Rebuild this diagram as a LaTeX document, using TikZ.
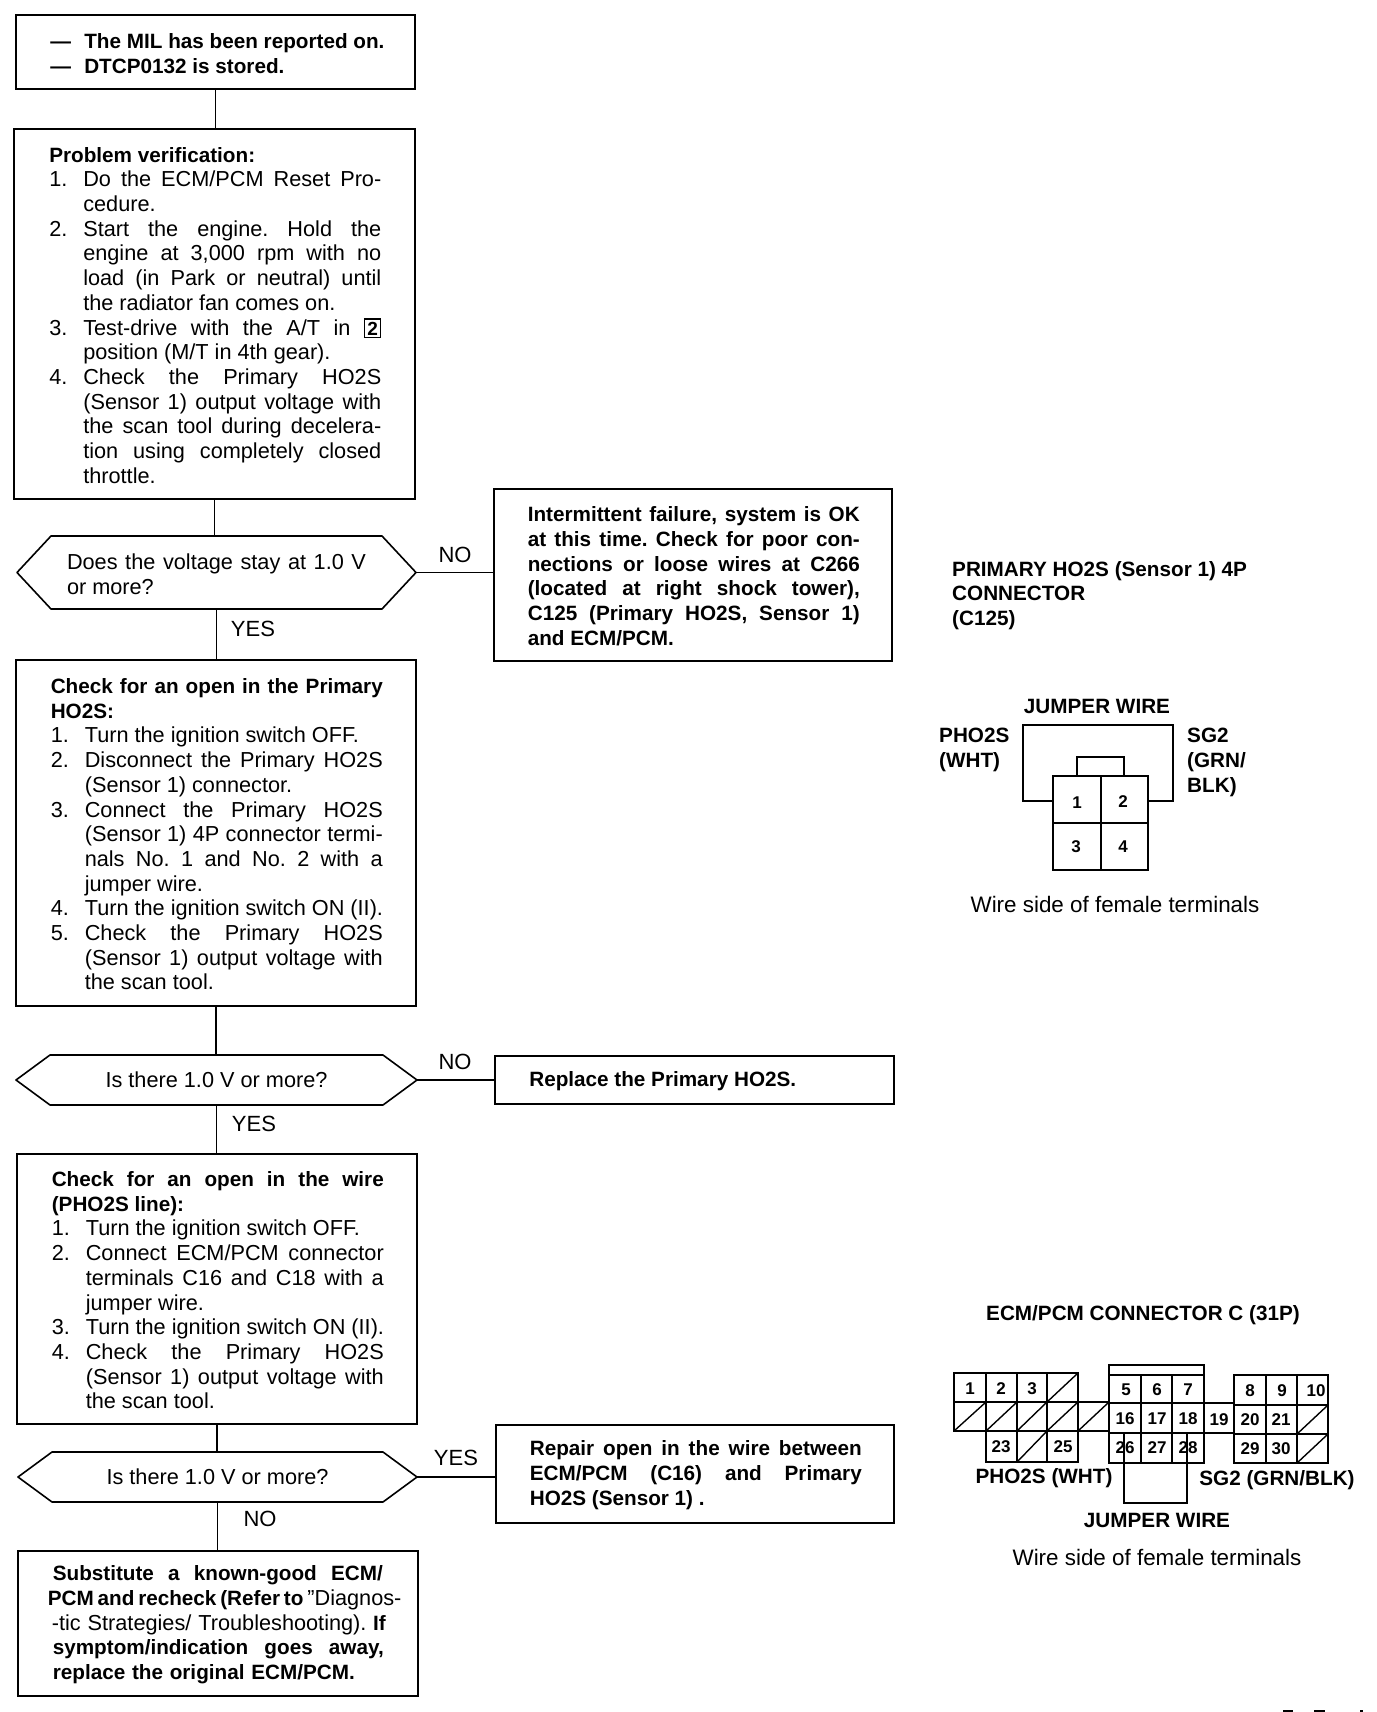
\documentclass[tikz,border=0pt]{standalone}
\usepackage{fontspec}
\setmainfont{Liberation Sans}
\AtBeginDocument{\frenchspacing}
\newcommand{\bodyb}{\fontsize{20.7}{24.7}\selectfont\bfseries}
\newcommand{\bodyr}{\fontsize{21.7}{24.7}\selectfont\mdseries}
\newcommand{\tb}[2][332pt]{\hspace*{2pt}\parbox[c]{#1}{\vspace*{3pt}#2}}
\newcommand{\jl}[1]{\makebox[332pt][s]{#1}}
\newcommand{\pl}[1]{\makebox[332pt][l]{#1}}
\newcommand{\jn}[2]{\makebox[34pt][l]{#1}\makebox[298pt][s]{#2}}
\newcommand{\pn}[2]{\makebox[34pt][l]{#1}\makebox[298pt][l]{#2}}
\newcommand{\boxtwo}{\smash{\fboxsep=2pt\fboxrule=1.4pt\fbox{\fontsize{19}{19}\selectfont\bfseries 2}}}
\newcommand{\hexdraw}[1]{\draw[flowline,line join=round] ([xshift=34pt]#1.north west) -- ([xshift=-34pt]#1.north east) -- (#1.east) -- ([xshift=-34pt]#1.south east) -- ([xshift=34pt]#1.south west) -- (#1.west) -- cycle;}
\tikzset{
  flowline/.style={line width=1.6pt,black},
  flowbox/.style 2 args={draw=black,line width=1.6pt,anchor=north west,inner sep=0pt,xshift=-1pt,yshift=1pt,minimum width=#1pt,minimum height=#2pt,font=\bodyr},
  hexbox/.style 2 args={anchor=north west,inner sep=0pt,outer sep=0pt,minimum width=#1pt,minimum height=#2pt,font=\bodyr},
  lab/.style={inner sep=0pt,font=\fontsize{22}{24.7}\selectfont},
  wlab/.style={inner sep=0pt,font=\fontsize{22.4}{24.7}\selectfont},
  blab/.style={inner sep=0pt,align=left,font=\fontsize{20.7}{24.7}\selectfont\bfseries},
  cellno/.style={inner sep=0pt,font=\fontsize{17}{17}\selectfont\bfseries},
  wire/.style={line width=2.8pt,black,line join=miter},
  thin wire/.style={line width=1.4pt,black},
}
\begin{document}
\begin{tikzpicture}[x=1pt,y=-1pt]
\useasboundingbox (0,0) rectangle (1376,1712);
% flow boxes
\node[flowbox={399}{74}] (b1) at (16,15) {\tb{\bodyb
 \makebox[34pt][l]{---}\makebox[298pt][l]{The MIL has been reported on.}\\
 \makebox[34pt][l]{---}\makebox[298pt][l]{DTCP0132 is stored.}}};
\node[flowbox={401}{370}] (b2) at (14,129) {\tb{\pl{\bodyb Problem verification:}\\
 \jn{1.}{Do the ECM/PCM Reset Pro-}\\
 \pn{}{cedure.}\\
 \jn{2.}{Start the engine. Hold the}\\
 \jn{}{engine at 3,000 rpm with no}\\
 \jn{}{load (in Park or neutral) until}\\
 \pn{}{the radiator fan comes on.}\\
 \jn{3.}{Test-drive with the A/T in \boxtwo}\\
 \pn{}{position (M/T in 4th gear).}\\
 \jn{4.}{Check the Primary HO2S}\\
 \jn{}{(Sensor 1) output voltage with}\\
 \jn{}{the scan tool during decelera-}\\
 \jn{}{tion using completely closed}\\
 \pn{}{throttle.}}};
\node[hexbox={399}{73}] (h1) at (17,536) {\parbox[c]{299pt}{\vspace*{3pt}\makebox[299pt][s]{Does the voltage stay at 1.0 V}\\or more?}};
\node[flowbox={398}{172}] (r1) at (494,489) {\tb{\bodyb
 \jl{Intermittent failure, system is OK}\\
 \jl{at this time. Check for poor con-}\\
 \jl{nections or loose wires at C266}\\
 \jl{(located at right shock tower),}\\
 \jl{C125 (Primary HO2S, Sensor 1)}\\
 \pl{and ECM/PCM.}}};
\node[flowbox={400}{346}] (b3) at (16,660) {\tb{\bodyb\jl{Check for an open in the Primary}\\\pl{HO2S:}\\\bodyr
 \pn{1.}{Turn the ignition switch OFF.}\\
 \jn{2.}{Disconnect the Primary HO2S}\\
 \pn{}{(Sensor 1) connector.}\\
 \jn{3.}{Connect the Primary HO2S}\\
 \jn{}{(Sensor 1) 4P connector termi-}\\
 \jn{}{nals No. 1 and No. 2 with a}\\
 \pn{}{jumper wire.}\\
 \pn{4.}{Turn the ignition switch ON (II).}\\
 \jn{5.}{Check the Primary HO2S}\\
 \jn{}{(Sensor 1) output voltage with}\\
 \pn{}{the scan tool.}}};
\node[hexbox={401}{50}] (h2) at (16,1055) {\raisebox{-2pt}{Is there 1.0 V or more?}};
\node[flowbox={399}{48}] (r2) at (495,1056) {\tb{\bodyb\pl{Replace the Primary HO2S.}}};
\node[flowbox={400}{270}] (b4) at (17,1154) {\tb{\bodyb\jl{Check for an open in the wire}\\\pl{(PHO2S line):}\\\bodyr
 \pn{1.}{Turn the ignition switch OFF.}\\
 \jn{2.}{Connect ECM/PCM connector}\\
 \jn{}{terminals C16 and C18 with a}\\
 \pn{}{jumper wire.}\\
 \pn{3.}{Turn the ignition switch ON (II).}\\
 \jn{4.}{Check the Primary HO2S}\\
 \jn{}{(Sensor 1) output voltage with}\\
 \pn{}{the scan tool.}}};
\node[hexbox={399}{50}] (h3) at (18,1452) {Is there 1.0 V or more?};
\node[flowbox={398}{98}] (r3) at (496,1425) {\tb{\bodyb
 \jl{Repair open in the wire between}\\
 \jl{ECM/PCM (C16) and Primary}\\
 \pl{HO2S (Sensor 1) .}}};
\node[flowbox={400}{145}] (b5) at (18,1551) {\parbox[c]{340pt}{\vspace*{3pt}\bodyb
 \hspace*{5pt}\makebox[330pt][s]{Substitute a known-good ECM/}\\
 \makebox[340pt][s]{PCM and recheck (Refer to {\bodyr\symbol{34}Diagnos-}}\\
 \hspace*{4pt}\makebox[334pt][s]{{\bodyr -tic Strategies/ Troubleshooting).} If}\\
 \hspace*{5pt}\makebox[331pt][s]{symptom/indication goes away,}\\
 \hspace*{5pt}\makebox[302pt][s]{replace the original ECM/PCM.}}};
\hexdraw{h1}\hexdraw{h2}\hexdraw{h3}
% connectors
\draw[flowline] (b1.south) -- (b1.south |- b2.north);
\draw[flowline] (b2.south) -- (b2.south |- h1.north);
\draw[flowline] (h1.south) -- (h1.south |- b3.north);
\draw[flowline] (h1.east) -- (h1.east -| r1.west);
\draw[flowline] (b3.south) -- (b3.south |- h2.north);
\draw[flowline] (h2.east) -- (h2.east -| r2.west);
\draw[flowline] (h2.south) -- (h2.south |- b4.north);
\draw[flowline] (b4.south) -- (b4.south |- h3.north);
\draw[flowline] (h3.east) -- (h3.east -| r3.west);
\draw[flowline] (h3.south) -- (h3.south |- b5.north);
% branch labels
\node[lab] (l1) at (455,555) {NO};
\node[lab] (l2) at (253,629) {YES};
\node[lab] (l3) at (455,1062) {NO};
\node[lab] (l4) at (254,1124) {YES};
\node[lab] (l5) at (456,1458) {YES};
\node[lab] (l6) at (260,1519) {NO};
% C125 connector
\node[blab,anchor=north west] (t1) at (952,561) {PRIMARY HO2S (Sensor 1) 4P\\CONNECTOR\\(C125)};
\draw[wire] (1053,801) -- (1023,801) -- (1023,725) -- (1173,725) -- (1173,801) -- (1148,801);
\draw[wire] (1077,776) -- (1077,757) -- (1124,757) -- (1124,776);
\draw[wire] (1053,776) rectangle (1148,870);
\draw[thin wire] (1101,776) -- (1101,870);
\draw[thin wire] (1053,823) -- (1148,823);
\node[cellno] (c1) at (1077,803) {1};
\node[cellno] (c2) at (1123,802) {2};
\node[cellno] (c3) at (1076,847) {3};
\node[cellno] (c4) at (1123,847) {4};
\node[blab] (t2) at (1097,706) {JUMPER WIRE};
\node[blab,anchor=north west] (t3) at (939,728) {PHO2S\\(WHT)};
\node[blab,anchor=north west] (t4) at (1187,728) {SG2\\(GRN/\\BLK)};
\node[wlab] (t5) at (1115,904) {Wire side of female terminals};
% ECM connector C
\node[blab] (t6) at (1143,1315) {ECM/PCM CONNECTOR C (31P)};
\draw[wire] (954,1373) -- (1078,1373) -- (1078,1462) -- (986,1462) -- (986,1431) -- (954,1431) -- cycle;
\draw[wire] (954,1402) -- (1109,1402);
\draw[wire] (954,1431) -- (1109,1431);
\foreach \xx in {986,1017,1047} \draw[thin wire] (\xx,1373) -- (\xx,1431);
\foreach \xx in {1017,1047} \draw[thin wire] (\xx,1431) -- (\xx,1462);
\foreach \xa/\xb/\ya/\yb in {1047/1078/1402/1373,954/986/1431/1402,986/1017/1431/1402,1017/1047/1431/1402,1047/1078/1431/1402,1078/1109/1431/1402,1017/1047/1462/1431}
  \draw[thin wire] (\xa,\ya) -- (\xb,\yb);
\draw[wire] (1109,1365) rectangle (1204,1463);
\draw[thin wire] (1109,1375) -- (1204,1375);
\foreach \xx in {1141,1172} \draw[thin wire] (\xx,1375) -- (\xx,1463);
\draw[wire] (1109,1403) -- (1234,1403);
\draw[wire] (1109,1433) -- (1234,1433);
\draw[wire] (1234,1375) rectangle (1328,1463);
\foreach \xx in {1266,1297} \draw[thin wire] (\xx,1375) -- (\xx,1463);
\draw[wire] (1234,1405) -- (1328,1405);
\draw[wire] (1234,1434) -- (1328,1434);
\draw[thin wire] (1297,1434) -- (1328,1405);
\draw[thin wire] (1297,1463) -- (1328,1434);
\foreach \tx/\xx/\yy in {1/970/1389,2/1001/1389,3/1032/1389,23/1001/1447,25/1063/1447,5/1126/1390,6/1157/1390,7/1188/1390,16/1125/1419,17/1157/1419,18/1188/1419,19/1219/1420,20/1250/1420,21/1281/1420,8/1250/1391,9/1282/1391,10/1316/1391,26/1125/1448,27/1157/1448,28/1188/1448,29/1250/1449,30/1281/1449}
  \node[cellno] (k\tx) at (\xx,\yy) {\tx};
\coordinate (ja) at (1124,1433);
\coordinate (jb) at (1187,1433);
\draw[thin wire,line width=1.6pt] (ja) -- (ja |- 0,1503) -- (jb |- 0,1503) -- (jb);
\node[blab] (t7) at (1044,1478) {PHO2S (WHT)};
\node[blab] (t8) at (1277,1480) {SG2 (GRN/BLK)};
\node[blab] (t9) at (1157,1520) {JUMPER WIRE};
\node[wlab] (t10) at (1157,1557) {Wire side of female terminals};
% page-edge remnants
\fill (1283,1710) rectangle (1293,1712);
\fill (1314,1710) rectangle (1325,1712);
\fill (1360,1710) rectangle (1363,1712);
\end{tikzpicture}
\end{document}
